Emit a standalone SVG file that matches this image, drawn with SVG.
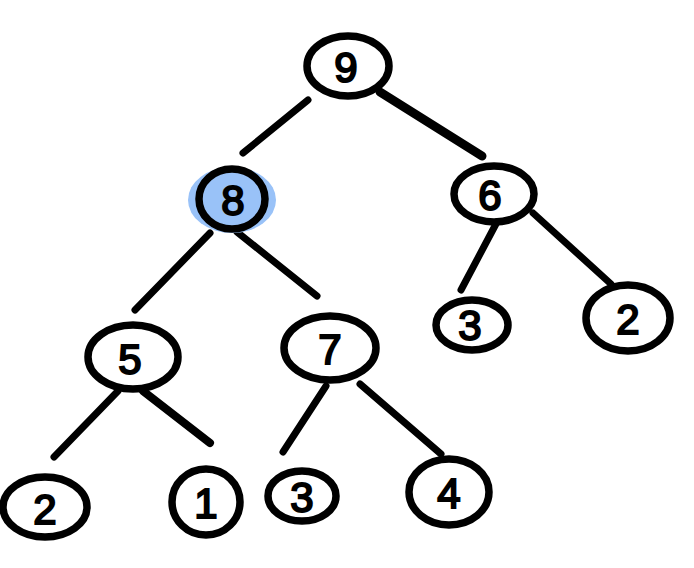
<svg xmlns="http://www.w3.org/2000/svg" width="694" height="568" viewBox="0 0 694 568">
<style>
.n{fill:none;stroke:#000;stroke-width:7.5}
.e{stroke:#000;stroke-width:7;stroke-linecap:round;fill:none}
.t{font-family:"Liberation Sans",Arial,sans-serif;font-size:42px;fill:#000;stroke:#000;stroke-width:2;text-anchor:middle}
</style>
<rect width="694" height="568" fill="#fff"/>
<g id="connectors">
<line class="e" x1="308" y1="100" x2="243" y2="153"/>
<line class="e" x1="380" y1="92" x2="482" y2="156" style="stroke-width:9"/>
<line class="e" x1="210" y1="233" x2="135" y2="310"/>
<line class="e" x1="237" y1="232" x2="317" y2="296"/>
<line class="e" x1="497" y1="222" x2="461" y2="290"/>
<line class="e" x1="533" y1="213" x2="611" y2="284"/>
<line class="e" x1="118" y1="391" x2="54" y2="457"/>
<line class="e" x1="143" y1="391" x2="210" y2="443" style="stroke-width:8"/>
<line class="e" x1="326" y1="386" x2="283" y2="452"/>
<line class="e" x1="360" y1="384" x2="441" y2="454"/>
</g>
<g id="n9"><ellipse class="n" cx="348" cy="66" rx="41" ry="30"/><text class="t" x="346" y="82">9</text></g>
<g id="n8"><ellipse cx="232" cy="200" rx="44" ry="33" fill="#99c2f8"/><ellipse class="n" cx="232" cy="199" rx="33" ry="30"/><text class="t" x="233" y="215">8</text></g>
<g id="n6"><ellipse class="n" cx="494" cy="194" rx="40" ry="28"/><text class="t" x="490" y="210">6</text></g>
<g id="n5"><ellipse class="n" cx="133" cy="357" rx="45" ry="32"/><text class="t" x="130" y="374">5</text></g>
<g id="n7"><ellipse class="n" cx="330" cy="348" rx="46" ry="32"/><text class="t" x="330" y="364">7</text></g>
<g id="n3a"><ellipse class="n" cx="472" cy="325" rx="36" ry="25"/><text class="t" x="470" y="340">3</text></g>
<g id="n2a"><ellipse class="n" cx="628" cy="318" rx="42" ry="33"/><text class="t" x="628" y="334">2</text></g>
<g id="n2b"><ellipse class="n" cx="45" cy="507" rx="42" ry="30"/><text class="t" x="45" y="524">2</text></g>
<g id="n1"><ellipse class="n" cx="206" cy="502" rx="34" ry="33"/><text class="t" x="206" y="518">1</text></g>
<g id="n3b"><ellipse class="n" cx="302" cy="496" rx="34" ry="25"/><text class="t" x="302" y="512">3</text></g>
<g id="n4"><ellipse class="n" cx="449" cy="492" rx="40" ry="33"/><text class="t" x="449" y="508">4</text></g>
</svg>
